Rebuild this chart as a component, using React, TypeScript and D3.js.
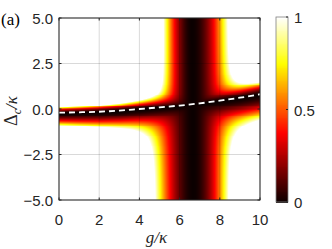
import React, { useEffect, useRef } from "react";
import * as d3 from "d3";

const gTicks = [0, 2, 4, 6, 8, 10];
const deltaTicks = [-5, -2.5, 0, 2.5, 5];
const colorTicks = [0, 0.5, 1];

// dashed white curve (minimum position)
const curveG = [0, 1, 2, 3, 4, 5, 6, 7, 8, 9, 10];
const curveDelta = [-0.2, -0.18, -0.15, -0.09, 0.0, 0.09, 0.19, 0.31, 0.46, 0.62, 0.81];

// dark vertical band: centre at top / bottom, half widths [left, right]
const bandCenter = [6.63, 6.7];
const bandHalfAbove = [1.43, 1.77];
const bandHalfBelow = [1.88, 1.72];

// thin dark line along the curve: half widths above / below
const lineG = [0, 10];
const lineHalfUp = [0.32, 0.6];
const lineHalfDown = [0.66, 1.2];

// matlab "hot"
const hotStops = [0, 0.375, 0.75, 1];
const hotColors = ["#0b0000", "#ff0000", "#ffff00", "#ffffff"];

const W = 332, H = 249;
const margin = { left: 59, top: 18, right: 72, bottom: 49 };

export default function App() {
  const ref = useRef<SVGGElement>(null);

  const width = W - margin.left - margin.right;
  const height = H - margin.top - margin.bottom;

  useEffect(() => {
    const root = d3.select(ref.current);
    root.selectAll("*").remove();

    const x = d3.scaleLinear().domain([0, 10]).range([margin.left, margin.left + width]);
    const y = d3.scaleLinear().domain([-5, 5]).range([margin.top + height, margin.top]);
    const color = d3.scaleLinear<string>().domain(hotStops).range(hotColors).clamp(true);

    const curve = d3.scaleLinear().domain(curveG).range(curveDelta);
    const up = d3.scaleLinear().domain(lineG).range(lineHalfUp);
    const down = d3.scaleLinear().domain(lineG).range(lineHalfDown);

    const value = (g: number, d: number) => {
      const dd = d - curve(g);
      const s = 0.5 * (1 + Math.tanh(dd / 0.4));
      const gc = bandCenter[1] + (bandCenter[0] - bandCenter[1]) * (d + 5) / 10;
      const dg = g - gc;
      const wl = bandHalfBelow[0] + (bandHalfAbove[0] - bandHalfBelow[0]) * s;
      const wr = bandHalfBelow[1] + (bandHalfAbove[1] - bandHalfBelow[1]) * s;
      const a = (dg / (dg < 0 ? wl : wr)) ** 2;
      const b = (dd / (dd > 0 ? up(g) : down(g))) ** 2;
      return Math.min(1, (a * b) / (a + b + 1e-12));
    };

    const step = 0.05;
    const cells: { g: number; d: number; v: number }[] = [];
    for (const g of d3.range(0, 10 + 1e-9, step)) {
      for (const d of d3.range(-5, 5 + 1e-9, step)) {
        cells.push({ g, d, v: value(g, d) });
      }
    }

    root.append("clipPath").attr("id", "plotclip")
      .append("rect")
      .attr("x", margin.left).attr("y", margin.top)
      .attr("width", width).attr("height", height);

    root.append("g")
      .attr("clip-path", "url(#plotclip)")
      .attr("shape-rendering", "crispEdges")
      .selectAll("rect")
      .data(cells)
      .join("rect")
      .attr("x", (c) => x(c.g - step / 2))
      .attr("y", (c) => y(c.d + step / 2))
      .attr("width", x(step) - x(0) + 0.6)
      .attr("height", y(0) - y(step) + 0.6)
      .attr("fill", (c) => color(c.v));

    // grid
    const grid = root.append("g").attr("stroke", "#000").attr("stroke-opacity", 0.15);
    gTicks.forEach((t) => {
      grid.append("line").attr("x1", x(t)).attr("x2", x(t))
        .attr("y1", margin.top).attr("y2", margin.top + height);
    });
    deltaTicks.forEach((t) => {
      grid.append("line").attr("y1", y(t)).attr("y2", y(t))
        .attr("x1", margin.left).attr("x2", margin.left + width);
    });

    // dashed curve
    const line = d3.line<number>()
      .x((_, i) => x(curveG[i]))
      .y((d) => y(d))
      .curve(d3.curveMonotoneX);
    root.append("path")
      .attr("d", line(curveDelta))
      .attr("fill", "none")
      .attr("stroke", "#fff")
      .attr("stroke-width", 1.8)
      .attr("stroke-dasharray", "6,4");

    // box + ticks
    const axis = root.append("g").attr("stroke", "#262626").attr("fill", "none");
    axis.append("rect")
      .attr("x", margin.left).attr("y", margin.top)
      .attr("width", width).attr("height", height);
    gTicks.forEach((t) => {
      axis.append("line").attr("x1", x(t)).attr("x2", x(t))
        .attr("y1", margin.top + height).attr("y2", margin.top + height - 2.5);
      axis.append("line").attr("x1", x(t)).attr("x2", x(t))
        .attr("y1", margin.top).attr("y2", margin.top + 2.5);
    });
    deltaTicks.forEach((t) => {
      axis.append("line").attr("y1", y(t)).attr("y2", y(t))
        .attr("x1", margin.left).attr("x2", margin.left + 2.5);
      axis.append("line").attr("y1", y(t)).attr("y2", y(t))
        .attr("x1", margin.left + width).attr("x2", margin.left + width - 2.5);
    });

    const labels = root.append("g")
      .attr("font-family", "'Liberation Sans', Arial, sans-serif")
      .attr("font-size", 15)
      .attr("fill", "#262626");
    gTicks.forEach((t) => {
      labels.append("text").attr("x", x(t)).attr("y", 225)
        .attr("text-anchor", "middle").text(t);
    });
    deltaTicks.forEach((t) => {
      labels.append("text").attr("x", 53).attr("y", y(t) + 5.5)
        .attr("text-anchor", "end").text(d3.format(".1f")(t));
    });

    // colorbar
    const cbX = 276, cbW = 12;
    const cy = d3.scaleLinear().domain([0, 1]).range([202, 17]);
    const cbStep = 0.005;
    root.append("g")
      .attr("shape-rendering", "crispEdges")
      .selectAll("rect")
      .data(d3.range(0, 1, cbStep))
      .join("rect")
      .attr("x", cbX)
      .attr("y", (v) => cy(v + cbStep))
      .attr("width", cbW)
      .attr("height", cy(0) - cy(cbStep) + 0.6)
      .attr("fill", (v) => color(v + cbStep / 2));
    root.append("rect")
      .attr("x", cbX).attr("y", cy(1))
      .attr("width", cbW).attr("height", cy(0) - cy(1))
      .attr("fill", "none").attr("stroke", "#808080").attr("stroke-width", 0.8);
    colorTicks.forEach((t) => {
      root.append("line")
        .attr("x1", cbX + cbW).attr("x2", cbX + cbW - 2)
        .attr("y1", cy(t)).attr("y2", cy(t))
        .attr("stroke", "#262626");
      labels.append("text").attr("x", cbX + cbW + 6).attr("y", cy(t) + 6)
        .text(t);
    });
  }, []);

  return (
    <svg width={W} height={H} style={{ position: "absolute", left: 0, top: 0, background: "#fff" }}>
      <g ref={ref} />
      <text x={1} y={25} fontFamily="'Liberation Serif', 'Times New Roman', serif" fontSize={17} fill="#000">
        (a)
      </text>
      <text
        transform={`translate(17, ${margin.top + (H - margin.top - margin.bottom) / 2 + 2}) rotate(-90)`}
        textAnchor="middle"
        fontFamily="'Liberation Serif', 'Times New Roman', serif"
        fontSize={17}
        fill="#262626"
      >
        <tspan fontSize={18}>Δ</tspan>
        <tspan fontStyle="italic" fontSize={12} dy={4}>c</tspan>
        <tspan fontStyle="italic" dy={-4}>/κ</tspan>
      </text>
      <text
        x={margin.left + (W - margin.left - margin.right) / 2 - 3}
        y={243}
        textAnchor="middle"
        fontFamily="'Liberation Serif', 'Times New Roman', serif"
        fontStyle="italic"
        fontSize={17}
        fill="#262626"
      >
        g/κ
      </text>
    </svg>
  );
}
